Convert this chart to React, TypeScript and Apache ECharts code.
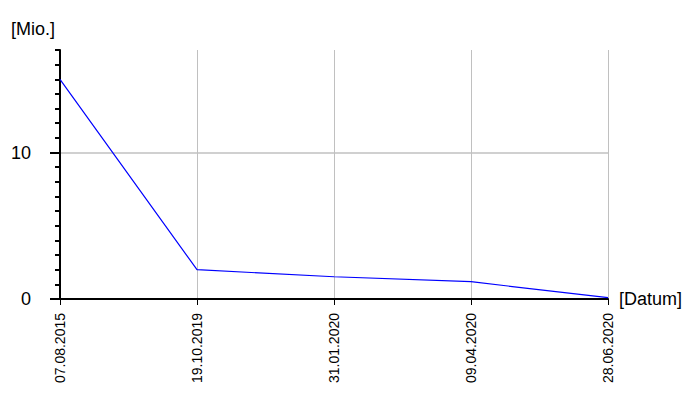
import React, { useEffect, useRef } from "react";
import * as echarts from "echarts";

const categories = ["07.08.2015", "19.10.2019", "31.01.2020", "09.04.2020", "28.06.2020"];
const values = [15, 2, 1.52, 1.18, 0.09];
const yMajorTicks = [0, 10];
const yMax = 17;

export default function App() {
  const ref = useRef<HTMLDivElement>(null);
  useEffect(() => {
    if (!ref.current) return;
    const chart = echarts.init(ref.current, undefined, { renderer: "svg" });
    const font = "Liberation Sans, Arial, sans-serif";
    chart.setOption({
      animation: false,
      backgroundColor: "#ffffff",
      grid: { left: 60, right: 92, top: 50, bottom: 101 },
      xAxis: {
        type: "category",
        data: categories,
        boundaryGap: false,
        name: "[Datum]",
        nameLocation: "end",
        nameGap: 11,
        nameTextStyle: { color: "#000", fontSize: 18, fontFamily: font },
        axisLine: { lineStyle: { color: "#000", width: 2 } },
        axisTick: { show: true, length: 6, alignWithLabel: true, lineStyle: { color: "#000", width: 1 } },
        axisLabel: { rotate: 90, margin: 14, color: "#000", fontSize: 14, fontFamily: font, interval: 0 },
        splitLine: { show: true, interval: 0, lineStyle: { color: "#c0c0c0", width: 1 } },
      },
      yAxis: [
        {
          type: "value",
          min: 0,
          max: yMax,
          interval: 10,
          name: "[Mio.]",
          nameLocation: "end",
          nameGap: 12,
          nameTextStyle: { color: "#000", fontSize: 18, fontFamily: font, align: "right", padding: [0, 5, 0, 0] },
          axisLine: { show: true, lineStyle: { color: "#000", width: 2 } },
          axisTick: { show: true, length: 10, customValues: yMajorTicks, lineStyle: { color: "#000", width: 2 } },
          axisLabel: { customValues: yMajorTicks, margin: 29, color: "#000", fontSize: 18, fontFamily: font },
          splitLine: { show: true, showMinLine: false, showMaxLine: true, lineStyle: { color: "#c0c0c0", width: 1.5 } },
        },
        {
          type: "value",
          position: "left",
          min: 0,
          max: yMax,
          interval: 1,
          axisLine: { show: false },
          axisTick: { show: true, length: 5, lineStyle: { color: "#000", width: 2 } },
          axisLabel: { show: false },
          splitLine: { show: false },
        },
      ],
      series: [
        {
          type: "line",
          data: values,
          yAxisIndex: 0,
          symbol: "none",
          lineStyle: { color: "#0000ff", width: 1.2 },
        },
      ],
    });
    return () => chart.dispose();
  }, []);
  return <div ref={ref} style={{ width: 700, height: 400, position: "absolute", left: 0, top: 0 }} />;
}
